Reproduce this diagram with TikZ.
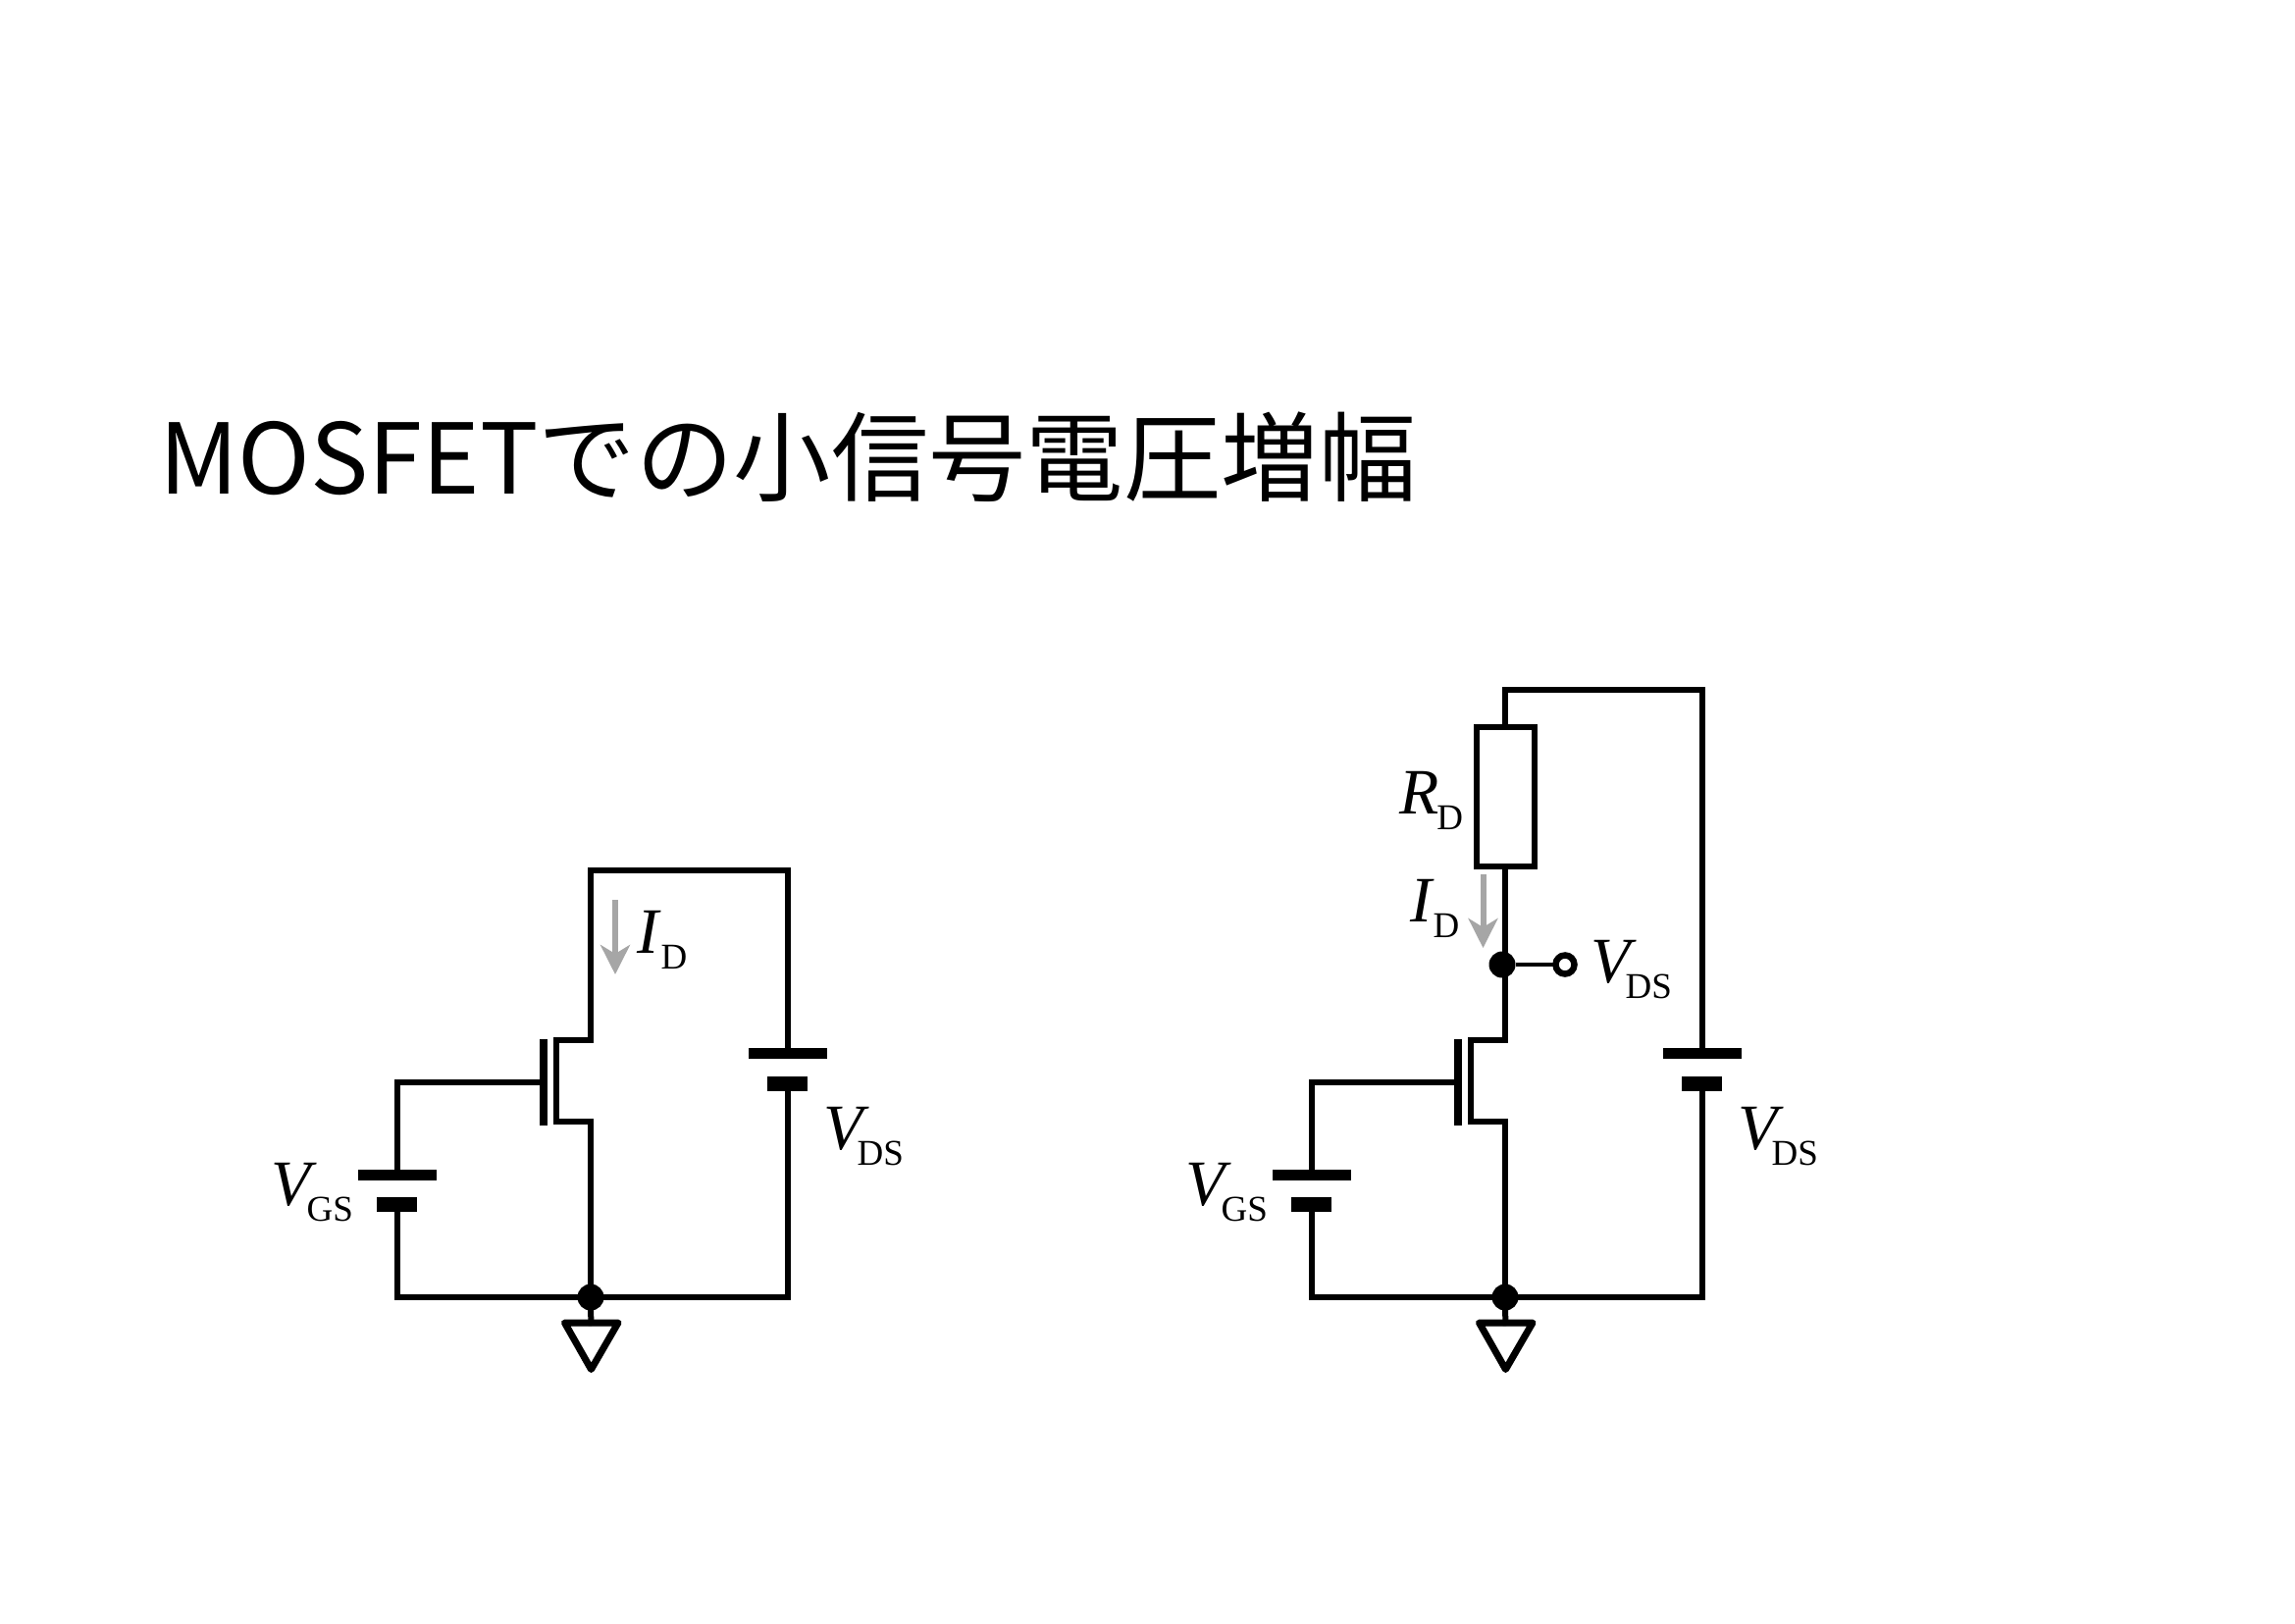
\documentclass[tikz,border=0pt]{standalone}
\usepackage{fontspec}
\setmainfont{Liberation Serif}
\newfontfamily\cjk{Noto Sans CJK JP}
\usetikzlibrary{arrows.meta}
\tikzset{
  wire/.style={line width=6pt,line join=miter,line cap=rect},
  thinwire/.style={line width=4.5pt},
  plate/.style={fill=black,inner sep=0pt,outer sep=0pt,draw=none,rectangle},
  longplate/.style={plate,minimum width=80pt,minimum height=11pt},
  shortplate/.style={plate,minimum width=41pt,minimum height=15pt},
  gatebar/.style={plate,minimum width=8pt,minimum height=88pt},
  dotnode/.style={circle,fill=black,inner sep=0pt,outer sep=0pt,minimum size=27pt},
  lab/.style={anchor=base west,inner sep=0pt,outer sep=0pt,font=\fontsize{66}{66}\selectfont},
  current/.style={line width=6pt,draw=curgray,-{Stealth[length=30pt,width=30pt,inset=9pt]}},
  res/.style={draw=black,line width=6pt,fill=white,inner sep=0pt,outer sep=0pt,minimum width=59pt,minimum height=142pt},
  openpin/.style={circle,draw=black,line width=6.5pt,fill=white,inner sep=0pt,outer sep=0pt,minimum size=19pt},
}
\definecolor{curgray}{HTML}{A6A6A6}
\newcommand{\quant}[3]{\textit{#1}\kern#3pt\lower16.5pt\hbox{\fontsize{37}{37}\selectfont #2}}
\newcommand{\commonpart}[2]{%
  \begin{scope}[xshift=#2pt]
    \node[dotnode] (#1dot) at (602,1322) {};
    \node[gatebar] (#1gate) at (553.6,1102.5) {};
    \node[longplate] (#1gl) at (404.5,1197.5) {};
    \node[shortplate] (#1gs) at (404.5,1227.5) {};
    \node[longplate] (#1dl) at (802.5,1073.5) {};
    \node[shortplate] (#1ds) at (802.5,1104) {};
    \coordinate (#1d) at (602,1060);
    \coordinate (#1s) at (602,1143);
    \coordinate (#1cha) at (567,1060);
    \coordinate (#1chb) at (567,1143);
    \coordinate (#1ga) at (575.5,1348);
    \coordinate (#1gb) at (630,1348);
    \coordinate (#1gc) at (602.5,1395.5);
    \coordinate (#1gt) at (602.5,1348);
    \draw[wire] (#1d) -- (#1cha) -- (#1chb) -- (#1s) -- (#1dot.north);
    \draw[wire] (#1gate.west) -| (#1gl.north);
    \draw[wire] (#1gs.south) |- (#1dot.west);
    \draw[wire] (#1ds.south) |- (#1dot.east);
    \draw[wire] (#1dot.south) -- (#1gt);
    \draw[line width=7pt,line join=round] (#1ga) -- (#1gb) -- (#1gc) -- cycle;
  \end{scope}%
}
\begin{document}
\begin{tikzpicture}[x=1pt,y=-1pt]
\useasboundingbox (0,0) rectangle (2339,1654);
\fill[white] (0,0) rectangle (2339,1654);
\node[anchor=base west,inner sep=0pt,font=\cjk\fontsize{99.4}{100}\selectfont] (title) at (162,503) {MOSFETでの小信号電圧増幅};

% left circuit
\commonpart{a}{0}
\coordinate (atl) at (602,887);
\draw[wire] (ad) -- (atl) -| (adl.north);
\coordinate (aia) at (627,917);
\coordinate (aib) at (627,993);
\draw[current] (aia) -- (aib);
\node[lab] (aid) at (649,971) {\quant{I}{D}{0}};
\node[lab] (avds) at (839,1171) {\quant{V}{DS}{-12}};
\node[lab] (avgs) at (276,1228) {\quant{V}{GS}{-10}};

% right circuit
\commonpart{b}{932}
\node[res] (brd) at (1534,812) {};
\node[dotnode] (bout) at (1531,983) {};
\node[openpin] (bpin) at (1595,983) {};
\coordinate (btl) at (1534,703);
\draw[wire] (bd) -- (bd |- bout.south);
\draw[wire] (bd |- bout.north) -- (brd.south);
\draw[wire] (brd.north) -- (btl) -| (bdl.north);
\draw[thinwire] (bout.east) -- (bpin.west);
\coordinate (bia) at (1511.5,891);
\coordinate (bib) at (1511.5,966);
\draw[current] (bia) -- (bib);
\node[lab] (bidl) at (1437,939) {\quant{I}{D}{-1}};
\node[lab] (brdl) at (1426,829) {\quant{R}{D}{-2}};
\node[lab] (bvout) at (1621,1001) {\quant{V}{DS}{-11}};
\node[lab] (bvds) at (1771,1171) {\quant{V}{DS}{-12}};
\node[lab] (bvgs) at (1208,1228) {\quant{V}{GS}{-10}};
\end{tikzpicture}
\end{document}
